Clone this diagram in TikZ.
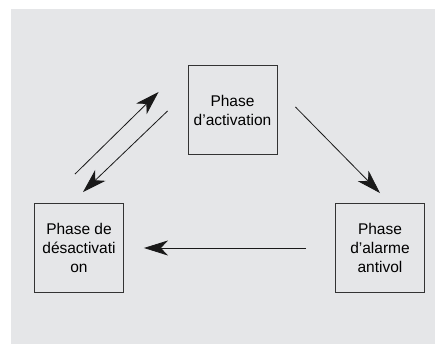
\documentclass[tikz,border=0pt]{standalone}
\usepackage{fontspec}
\setmainfont{Liberation Sans}
\usepackage{tikz}
\usetikzlibrary{arrows.meta,positioning}
\definecolor{PanelGrey}{RGB}{229,230,232}

\begin{document}
\begin{tikzpicture}[
  x=1pt, y=1pt,
  phase/.style={
    rectangle, draw=black!80, line width=0.9pt,
    minimum width=89pt, minimum height=89pt,
    align=center, font=\fontsize{15.5}{19}\selectfont,
    inner sep=2pt
  },
  arr/.style={-{Stealth[length=24pt, width=15pt, inset=7pt]}, line width=0.8pt, black!90}
]

\useasboundingbox (0,0) rectangle (435,344);
\fill[PanelGrey] (11,0) rectangle (435,335);

% ---- Phases ----
\node[phase] (act)    at (232.5,234) {Phase\\d’activation};
\node[phase] (desact) at (79,96)     {Phase de\\désactivati\\on};
\node[phase] (alarm)  at (380,96)    {Phase\\d’alarme\\antivol};

% ---- Arrows ----
\draw[arr] ([shift={(18,3)}]act.east) -- ([yshift=10]alarm.north);
\draw[arr, shorten <=29pt, shorten >=20pt] (alarm.west) -- (desact.east);
\draw[arr] ([shift={(-4,29)}]desact.north) -- ([shift={(-29,18)}]act.west);
\draw[arr] ([shift={(-20,-1)}]act.west) -- ([shift={(4,11)}]desact.north);

\end{tikzpicture}
\end{document}
